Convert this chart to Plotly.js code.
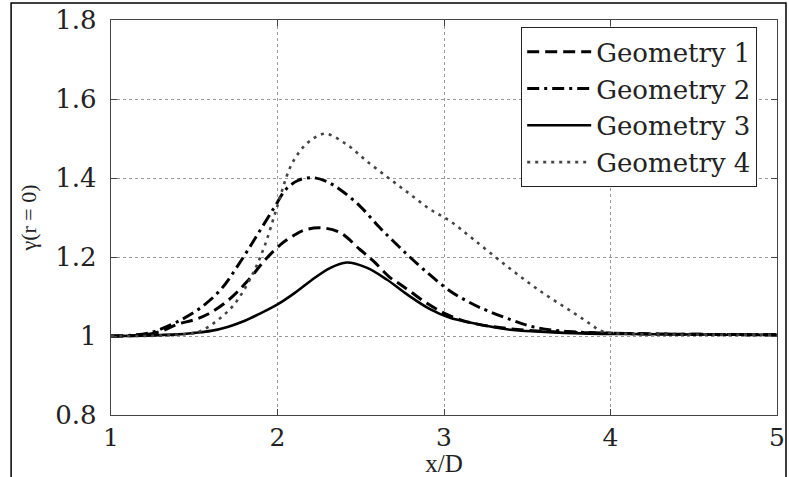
<!DOCTYPE html>
<html>
<head>
<meta charset="utf-8">
<script src="https://cdn.plot.ly/plotly-3.0.1.min.js"></script>
<style>
html,body{margin:0;padding:0;background:#fff;}
#chart{width:789px;height:477px;}
</style>
</head>
<body>
<div id="chart"></div>
<script>
// Geometry 1 (dashed)
var g1x = [1.0, 1.2, 1.3, 1.4, 1.5, 1.58, 1.7, 1.82, 1.92, 2.02, 2.1, 2.16, 2.255, 2.375, 2.495, 2.575, 2.676, 2.736, 2.8, 2.9, 3.0, 3.1, 3.2, 3.4, 3.6, 3.8, 4.0, 4.3, 4.6, 5.0];
var g1y = [1.0, 1.003, 1.012, 1.030, 1.041, 1.055, 1.089, 1.139, 1.19, 1.232, 1.255, 1.268, 1.274, 1.262, 1.219, 1.19, 1.148, 1.131, 1.112, 1.082, 1.058, 1.041, 1.03, 1.018, 1.012, 1.009, 1.007, 1.005, 1.004, 1.003];
// Geometry 2 (dash-dot)
var g2x = [1.0, 1.15, 1.25, 1.32, 1.43, 1.54, 1.66, 1.78, 1.88, 1.98, 2.05, 2.12, 2.205, 2.29, 2.375, 2.495, 2.615, 2.735, 2.876, 3.036, 3.136, 3.216, 3.396, 3.517, 3.65, 3.8, 4.0, 4.3, 4.6, 5.0];
var g2y = [1.0, 1.003, 1.01, 1.021, 1.043, 1.072, 1.118, 1.19, 1.257, 1.325, 1.371, 1.393, 1.401, 1.392, 1.371, 1.329, 1.274, 1.224, 1.169, 1.114, 1.089, 1.072, 1.042, 1.025, 1.015, 1.01, 1.007, 1.005, 1.004, 1.003];
// Geometry 3 (solid)
var g3x = [1.0, 1.2, 1.4, 1.5, 1.6, 1.7, 1.8, 1.9, 2.0, 2.1, 2.2, 2.315, 2.415, 2.535, 2.656, 2.776, 2.916, 3.036, 3.156, 3.377, 3.577, 3.877, 4.1, 4.4, 4.7, 5.0];
var g3y = [1.0, 1.001, 1.004, 1.008, 1.013, 1.023, 1.038, 1.058, 1.08, 1.108, 1.14, 1.172, 1.186, 1.173, 1.143, 1.106, 1.068, 1.046, 1.034, 1.017, 1.011, 1.006, 1.005, 1.004, 1.003, 1.003];
// Geometry 4 (dotted)
var g4x = [1.0, 1.3, 1.45, 1.54, 1.64, 1.74, 1.84, 1.92, 2.0, 2.075, 2.135, 2.195, 2.285, 2.415, 2.535, 2.676, 2.796, 2.916, 3.036, 3.176, 3.377, 3.577, 3.777, 3.897, 3.93, 4.0, 4.3, 4.6, 5.0];
var g4y = [1.0, 1.001, 1.005, 1.013, 1.04, 1.08, 1.148, 1.225, 1.33, 1.426, 1.468, 1.494, 1.512, 1.485, 1.443, 1.397, 1.359, 1.321, 1.291, 1.245, 1.177, 1.114, 1.059, 1.025, 1.015, 1.008, 1.004, 1.003, 1.003];

var seriesNames = ['Geometry 1', 'Geometry 2', 'Geometry 3', 'Geometry 4'];
var xTicks = [1, 2, 3, 4, 5];
var yTicks = [0.8, 1, 1.2, 1.4, 1.6, 1.8];
var yTickText = ['0.8', '1', '1.2', '1.4', '1.6', '1.8'];

var traces = [
  {x: g1x, y: g1y, name: seriesNames[0], mode: 'lines', line: {color: '#000', width: 3, dash: '12px,6px', shape: 'spline', smoothing: 1}},
  {x: g2x, y: g2y, name: seriesNames[1], mode: 'lines', line: {color: '#000', width: 3, dash: '12px,5px,3px,5px', shape: 'spline', smoothing: 1}},
  {x: g3x, y: g3y, name: seriesNames[2], mode: 'lines', line: {color: '#000', width: 2.6, shape: 'spline', smoothing: 1}},
  {x: g4x, y: g4y, name: seriesNames[3], mode: 'lines', line: {color: '#444', width: 2.6, dash: '3px,5px', shape: 'spline', smoothing: 1}}
];

var serif = 'Liberation Serif, Times New Roman, serif';
var wide = 'DejaVu Serif, Liberation Serif, serif';
var layout = {
  width: 789, height: 477,
  margin: {l: 111, r: 12, t: 20, b: 62},
  paper_bgcolor: '#fff', plot_bgcolor: '#fff',
  font: {family: wide, color: '#222', size: 26},
  showlegend: true,
  legend: {
    x: 0.6156, y: 0.982, xanchor: 'left', yanchor: 'top',
    bgcolor: '#fff', bordercolor: '#222', borderwidth: 1.2,
    font: {family: wide, size: 26, color: '#222'},
    itemwidth: 64, tracegroupgap: 0
  },
  xaxis: {
    range: [1, 5], tickvals: xTicks, ticktext: xTicks.map(String),
    ticks: 'inside', ticklen: 6, tickcolor: '#444', tickwidth: 1,
    showline: true, linecolor: '#444', linewidth: 1.2, mirror: 'ticks',
    showgrid: true, gridcolor: '#999', gridwidth: 1, griddash: 'dot',
    zeroline: false, ticklabelstandoff: 0,
    tickfont: {family: wide, size: 25, color: '#222'},
    title: {text: 'x/D', font: {family: serif, size: 25, color: '#222'}, standoff: 3}
  },
  yaxis: {
    range: [0.8, 1.8], tickvals: yTicks, ticktext: yTickText,
    ticks: 'inside', ticklen: 6, tickcolor: '#444', tickwidth: 1,
    showline: true, linecolor: '#444', linewidth: 1.2, mirror: 'ticks',
    showgrid: true, gridcolor: '#999', gridwidth: 1, griddash: 'dot',
    zeroline: false, ticklabelstandoff: 8,
    tickfont: {family: wide, size: 26, color: '#222'},
    title: {text: 'γ(r = 0)', font: {family: serif, size: 22, color: '#222'}, standoff: 12}
  },
  shapes: [
    {type: 'rect', xref: 'paper', yref: 'paper', x0: -0.150, x1: 1.0135, y0: -0.17, y1: 1.043,
     line: {color: '#000', width: 1.5}, fillcolor: 'rgba(0,0,0,0)', layer: 'above'}
  ]
};

Plotly.newPlot('chart', traces, layout, {staticPlot: true, displayModeBar: false});
</script>
</body>
</html>
